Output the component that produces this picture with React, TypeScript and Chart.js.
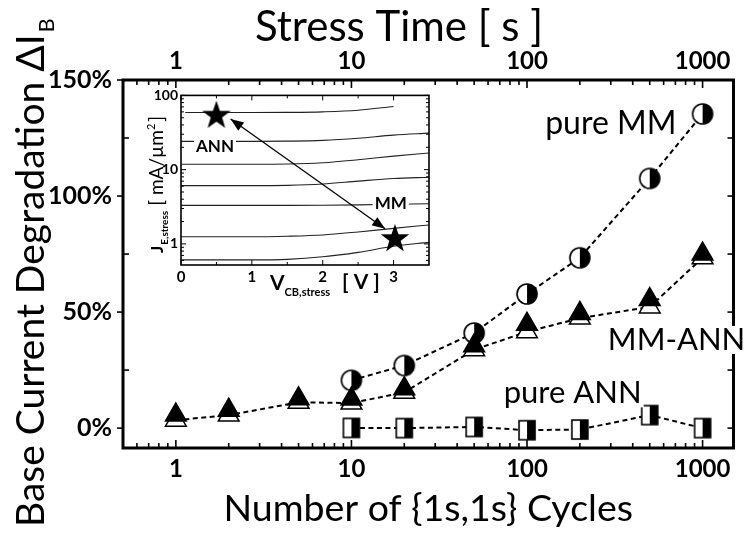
import React, { useEffect, useRef } from 'react';
import { Chart, registerables } from 'chart.js';
Chart.register(...registerables);

const FONT = 'Lato, sans-serif';

// ---------- main chart data ----------
const cycles = [1, 2, 5, 10, 20, 50, 100, 200, 500, 1000];
const mmAnnFilled = [5.6, 7.7, 12.6, 12.5, 17.0, 35.5, 44.7, 49.4, 55.4, 75.0];
const mmAnnOpen = [3.4, 5.6, 11.1, 10.8, 15.4, 33.8, 41.5, 47.4, 52.2, 73.4];
const mmCycles = [10, 20, 50, 100, 200, 500, 1000];
const pureMM = [20.6, 27.0, 41.0, 57.8, 73.4, 107.6, 135.4];
const annCycles = [10, 20, 50, 100, 200, 500, 1000];
const pureANN = [0.1, 0.0, 0.5, -0.9, -0.6, 5.6, 0.0];

const xMajorTicks = [1, 10, 100, 1000];
const xMinorTicks = [0.6, 0.7, 0.8, 0.9, 2, 3, 4, 5, 6, 7, 8, 9, 20, 30, 40, 50, 60, 70, 80, 90, 200, 300, 400, 500, 600, 700, 800, 900];
const yTicks = [0, 25, 50, 75, 100, 125, 150];
const yLabelled = [0, 50, 100, 150];

const topTitle = 'Stress Time [ s ]';
const bottomTitle = 'Number of {1s,1s} Cycles';
const yTitle = 'Base Current Degradation \u0394I';
const yTitleSub = 'B';

// annotation labels (data coordinates)
const annoText = ['pure MM', 'MM-ANN', 'pure ANN'];
const annoX = [300, 711, 182];
const annoY = [131, 38, 15];

// ---------- inset data ----------
const vcbTop = [0.06, 0.5, 1, 1.5, 2, 2.5, 3];
const curveTop = [58.8, 58.8, 58.8, 59, 60, 63, 71];
const vcb = [0, 0.5, 1, 1.5, 2, 2.5, 3, 3.5];
const curve2 = [24, 24, 24, 24.2, 24.8, 26.5, 29.2, 31];
const curve3 = [11.8, 11.8, 11.8, 11.9, 12.4, 13.6, 15.2, 16.8];
const curve4 = [6.1, 6.1, 6.1, 6.15, 6.4, 7.0, 7.6, 7.9];
const curve5 = [3.3, 3.3, 3.3, 3.3, 3.32, 3.36, 3.42, 3.48];
const curve6 = [1.25, 1.25, 1.25, 1.27, 1.32, 1.45, 1.62, 1.8];
const curve7 = [0.61, 0.61, 0.61, 0.62, 0.67, 0.77, 0.93, 1.05];
const starV = [0.5, 3.02];
const starJ = [55, 1.2];
const arrowV = [0.7, 2.88];
const arrowJ = [48, 1.6];
const insetLabels = ['ANN', 'MM'];
const insetLabelV = [0.48, 2.96];
const insetLabelJ = [20.6, 3.5];
const ivMajor = [0, 1, 2, 3];
const ivMinor = [0.5, 1.5, 2.5];
const ijMajor = [1, 10, 100];
const ijMinor = [0.6, 0.7, 0.8, 0.9, 2, 3, 4, 5, 6, 7, 8, 9, 20, 30, 40, 50, 60, 70, 80, 90];

function makeHalfCircle(r: number) {
  const s = Math.ceil(2 * r + 4);
  const c = document.createElement('canvas');
  c.width = s; c.height = s;
  const g = c.getContext('2d')!;
  const cx = s / 2, cy = s / 2;
  g.beginPath(); g.arc(cx, cy, r, 0, Math.PI * 2); g.fillStyle = '#fff'; g.fill();
  g.beginPath(); g.moveTo(cx, cy - r); g.arc(cx, cy, r, -Math.PI / 2, Math.PI / 2); g.closePath(); g.fillStyle = '#000'; g.fill();
  g.beginPath(); g.arc(cx, cy, r, 0, Math.PI * 2); g.lineWidth = 1.6; g.strokeStyle = '#000'; g.stroke();
  return c;
}

function makeHalfSquare(w: number, h: number) {
  const c = document.createElement('canvas');
  c.width = w + 4; c.height = h + 4;
  const g = c.getContext('2d')!;
  g.fillStyle = '#fff'; g.fillRect(2, 2, w, h);
  g.fillStyle = '#000'; g.fillRect(2 + w / 2, 2, w / 2, h);
  g.lineWidth = 1.6; g.strokeStyle = '#000'; g.strokeRect(2, 2, w, h);
  return c;
}

function makeStar(R: number, r: number) {
  const s = Math.ceil(2 * R + 4);
  const c = document.createElement('canvas');
  c.width = s; c.height = s;
  const g = c.getContext('2d')!;
  const cx = s / 2, cy = s / 2 + 1;
  g.beginPath();
  for (let i = 0; i < 10; i++) {
    const rad = (i % 2 === 0 ? R : r);
    const a = -Math.PI / 2 + (i * Math.PI) / 5;
    const px = cx + rad * Math.cos(a), py = cy + rad * Math.sin(a);
    if (i === 0) g.moveTo(px, py); else g.lineTo(px, py);
  }
  g.closePath(); g.fillStyle = '#000'; g.fill();
  return c;
}

function line(ctx: CanvasRenderingContext2D, x1: number, y1: number, x2: number, y2: number) {
  ctx.beginPath(); ctx.moveTo(x1, y1); ctx.lineTo(x2, y2); ctx.stroke();
}

export default function App() {
  const mainRef = useRef<HTMLCanvasElement>(null);
  const insetRef = useRef<HTMLCanvasElement>(null);

  useEffect(() => {
    const circle = makeHalfCircle(10);
    const square = makeHalfSquare(16, 19);
    const star = makeStar(15, 6);

    const mainPlugin = {
      id: 'mainDecor',
      afterDraw(chart: any) {
        const { ctx, chartArea: ca, scales } = chart;
        const sx = scales.x, sy = scales.y;
        ctx.save();
        ctx.strokeStyle = '#000';
        ctx.lineWidth = 1.6;
        [...xMajorTicks, ...xMinorTicks].forEach((v) => {
          const px = sx.getPixelForValue(v);
          const len = xMajorTicks.includes(v) ? 8 : 5;
          line(ctx, px, ca.bottom, px, ca.bottom - len);
          line(ctx, px, ca.top, px, ca.top + len);
        });
        yTicks.forEach((v) => {
          const py = sy.getPixelForValue(v);
          if (yLabelled.includes(v)) line(ctx, ca.left - 6, py, ca.left, py);
          else line(ctx, ca.left, py, ca.left + 6, py);
          line(ctx, ca.right, py, ca.right - 6, py);
        });
        ctx.lineWidth = 3;
        ctx.strokeRect(ca.left, ca.top, ca.right - ca.left, ca.bottom - ca.top);

        ctx.fillStyle = '#000';
        // top axis title
        ctx.textAlign = 'center';
        ctx.textBaseline = 'alphabetic';
        ctx.font = `42px ${FONT}`;
        ctx.fillText(topTitle, ca.left + 276, 41);

        // y axis title with subscript
        ctx.save();
        ctx.translate(44, 527);
        ctx.rotate(-Math.PI / 2);
        ctx.textAlign = 'left';
        ctx.textBaseline = 'alphabetic';
        ctx.font = `39px ${FONT}`;
        ctx.fillText(yTitle, 0, 0);
        const w = ctx.measureText(yTitle).width;
        ctx.font = `22px ${FONT}`;
        ctx.fillText(yTitleSub, w + 2, 10);
        ctx.restore();

        // annotations
        ctx.textAlign = 'center';
        ctx.textBaseline = 'middle';
        annoText.forEach((s, i) => {
          ctx.font = `${i === 0 ? 32 : 31}px ${FONT}`;
          const px = sx.getPixelForValue(annoX[i]);
          const py = sy.getPixelForValue(annoY[i]);
          const tw = ctx.measureText(s).width;
          ctx.fillStyle = '#fff';
          ctx.fillRect(px - tw / 2 - 2, py - 14, tw + 4, 28);
          ctx.fillStyle = '#000';
          ctx.fillText(s, px, py);
        });
        ctx.restore();
      },
    };

    const xTickBuild = (s: any) => {
      s.ticks = [...xMinorTicks, ...xMajorTicks].sort((a, b) => a - b).map((v) => ({ value: v }));
    };
    const xTickCb = (v: any) => (xMajorTicks.includes(Number(v)) ? String(v) : '');

    const main = new Chart(mainRef.current!, {
      type: 'line',
      data: {
        datasets: [
          {
            label: 'MM-ANN (a)',
            data: cycles.map((c, i) => ({ x: c, y: mmAnnFilled[i] })),
            showLine: false,
            pointStyle: 'triangle',
            pointRadius: 12,
            pointBackgroundColor: '#000',
            pointBorderColor: '#000',
            pointBorderWidth: 1.5,
          },
          {
            label: 'MM-ANN (b)',
            data: cycles.map((c, i) => ({ x: c, y: mmAnnOpen[i] })),
            showLine: true,
            borderColor: '#000',
            borderWidth: 2,
            borderDash: [5, 3.5],
            pointStyle: 'triangle',
            pointRadius: 12,
            pointBackgroundColor: '#fff',
            pointBorderColor: '#000',
            pointBorderWidth: 1.5,
          },
          {
            label: 'pure MM',
            data: mmCycles.map((c, i) => ({ x: c, y: pureMM[i] })),
            showLine: true,
            borderColor: '#000',
            borderWidth: 2,
            borderDash: [5, 3.5],
            pointStyle: circle as any,
            pointRadius: 10,
          },
          {
            label: 'pure ANN',
            data: annCycles.map((c, i) => ({ x: c, y: pureANN[i] })),
            showLine: true,
            borderColor: '#000',
            borderWidth: 2,
            borderDash: [5, 3.5],
            pointStyle: square as any,
            pointRadius: 10,
          },
        ],
      },
      options: {
        responsive: false,
        devicePixelRatio: 1,
        animation: false,
        layout: { padding: { left: 0, right: 12, top: 0, bottom: 0 } },
        plugins: { legend: { display: false }, tooltip: { enabled: false } },
        scales: {
          x: {
            type: 'logarithmic',
            position: 'bottom',
            min: 0.5,
            max: 1500,
            afterBuildTicks: xTickBuild,
            afterFit: (s: any) => { s.height = 86; },
            grid: { display: false, drawTicks: false },
            border: { display: false },
            ticks: { callback: xTickCb, autoSkip: false, maxRotation: 0, padding: 7, color: '#000', font: { family: FONT, size: 24, weight: 'bold' } },
            title: { display: true, text: bottomTitle, color: '#000', font: { family: FONT, size: 37.5 }, padding: { top: 0, bottom: 3 } },
          },
          x2: {
            type: 'logarithmic',
            position: 'top',
            min: 0.5,
            max: 1500,
            afterBuildTicks: xTickBuild,
            afterFit: (s: any) => { s.height = 80; },
            grid: { display: false, drawTicks: false },
            border: { display: false },
            ticks: { callback: xTickCb, autoSkip: false, maxRotation: 0, padding: 4, color: '#000', font: { family: FONT, size: 24, weight: 'bold' } },
          },
          y: {
            type: 'linear',
            min: -8.57,
            max: 150,
            afterBuildTicks: (s: any) => { s.ticks = yTicks.map((v) => ({ value: v })); },
            afterFit: (s: any) => { s.width = 123; },
            grid: { display: false, drawTicks: false },
            border: { display: false },
            ticks: { callback: (v: any) => (yLabelled.includes(Number(v)) ? `${v}%` : ''), autoSkip: false, padding: 11, color: '#000', font: { family: FONT, size: 25, weight: 'bold' } },
          },
        },
      } as any,
      plugins: [mainPlugin],
    });

    const insetPlugin = {
      id: 'insetDecor',
      afterDraw(chart: any) {
        const { ctx, chartArea: ca, scales } = chart;
        const sx = scales.x, sy = scales.y;
        ctx.save();
        ctx.strokeStyle = '#000';
        ctx.fillStyle = '#000';
        ctx.lineWidth = 1;
        [...ivMajor, ...ivMinor].forEach((v) => {
          const px = sx.getPixelForValue(v);
          const len = ivMajor.includes(v) ? 5 : 3;
          line(ctx, px, ca.bottom, px, ca.bottom - len);
          line(ctx, px, ca.top, px, ca.top + len);
        });
        [...ijMajor, ...ijMinor].forEach((v) => {
          const py = sy.getPixelForValue(v);
          const len = ijMajor.includes(v) ? 5 : 3;
          line(ctx, ca.left, py, ca.left + len, py);
          line(ctx, ca.right, py, ca.right - len, py);
        });
        ctx.lineWidth = 1.6;
        ctx.strokeRect(ca.left, ca.top, ca.right - ca.left, ca.bottom - ca.top);

        // arrow
        const x1 = sx.getPixelForValue(arrowV[0]), y1 = sy.getPixelForValue(arrowJ[0]);
        const x2 = sx.getPixelForValue(arrowV[1]), y2 = sy.getPixelForValue(arrowJ[1]);
        ctx.lineWidth = 1.3;
        line(ctx, x1, y1, x2, y2);
        const head = (hx: number, hy: number, ox: number, oy: number) => {
          const a = Math.atan2(hy - oy, hx - ox);
          const L = 13, W = 5;
          ctx.beginPath();
          ctx.moveTo(hx, hy);
          ctx.lineTo(hx - L * Math.cos(a) + W * Math.sin(a), hy - L * Math.sin(a) - W * Math.cos(a));
          ctx.lineTo(hx - L * Math.cos(a) - W * Math.sin(a), hy - L * Math.sin(a) + W * Math.cos(a));
          ctx.closePath();
          ctx.fill();
        };
        head(x1, y1, x2, y2);
        head(x2, y2, x1, y1);

        // labels
        ctx.font = `bold 17px ${FONT}`;
        ctx.textAlign = 'center';
        ctx.textBaseline = 'middle';
        insetLabels.forEach((s, i) => {
          const px = sx.getPixelForValue(insetLabelV[i]);
          const py = sy.getPixelForValue(insetLabelJ[i]);
          const tw = ctx.measureText(s).width;
          ctx.fillStyle = '#fff';
          ctx.fillRect(px - tw / 2 - 2, py - 8, tw + 4, 16);
          ctx.fillStyle = '#000';
          ctx.fillText(s, px, py);
        });

        // x title: V_CB,stress [ V ]
        ctx.textAlign = 'left';
        ctx.textBaseline = 'alphabetic';
        const bx = ca.left + 89;
        const by = ca.bottom + 25;
        ctx.font = `bold 21px ${FONT}`;
        ctx.fillText('V', bx, by);
        const wv = ctx.measureText('V').width;
        ctx.font = `bold 11px ${FONT}`;
        ctx.fillText('CB,stress', bx + wv, by + 6);
        ctx.font = `bold 21px ${FONT}`;
        ctx.fillText('[ V ]', ca.left + 161, by - 1);

        // y title: J_E,stress [ mA/µm² ]
        ctx.save();
        ctx.translate(ca.left - 18, ca.bottom - 12);
        ctx.rotate(-Math.PI / 2);
        ctx.font = `bold 17px ${FONT}`;
        ctx.fillText('J', 0, 0);
        let off = ctx.measureText('J').width + 1;
        ctx.font = `bold 10px ${FONT}`;
        ctx.fillText('E,stress', off, 5);
        off += ctx.measureText('E,stress').width + 5;
        ctx.font = `19px ${FONT}`;
        ctx.fillText('[ mA/\u00b5m', off, 0);
        off += ctx.measureText('[ mA/\u00b5m').width;
        ctx.font = `11px ${FONT}`;
        ctx.fillText('2', off, -8);
        off += ctx.measureText('2').width + 2;
        ctx.font = `19px ${FONT}`;
        ctx.fillText(']', off, 0);
        ctx.restore();
        ctx.restore();
      },
    };

    const curveDs = (xs: number[], ys: number[]) => ({
      data: xs.map((v, i) => ({ x: v, y: ys[i] })),
      showLine: true,
      borderColor: '#222',
      borderWidth: 1.1,
      pointRadius: 0,
      cubicInterpolationMode: 'monotone',
    });

    const inset = new Chart(insetRef.current!, {
      type: 'line',
      data: {
        datasets: [
          {
            data: starV.map((v, i) => ({ x: v, y: starJ[i] })),
            showLine: false,
            pointStyle: star as any,
            pointRadius: 10,
          },
          curveDs(vcbTop, curveTop),
          curveDs(vcb, curve2),
          curveDs(vcb, curve3),
          curveDs(vcb, curve4),
          curveDs(vcb, curve5),
          curveDs(vcb, curve6),
          curveDs(vcb, curve7),
        ] as any,
      },
      options: {
        responsive: false,
        devicePixelRatio: 1,
        animation: false,
        layout: { padding: { left: 0, right: 11, top: 9, bottom: 0 } },
        plugins: { legend: { display: false }, tooltip: { enabled: false } },
        scales: {
          x: {
            type: 'linear',
            min: 0,
            max: 3.5,
            afterBuildTicks: (s: any) => { s.ticks = ivMajor.map((v) => ({ value: v })); },
            afterFit: (s: any) => { s.height = 34; },
            grid: { display: false, drawTicks: false },
            border: { display: false },
            ticks: { autoSkip: false, maxRotation: 0, padding: 3, color: '#000', font: { family: FONT, size: 15, weight: 'bold' } },
          },
          y: {
            type: 'logarithmic',
            min: 0.52,
            max: 100,
            afterBuildTicks: (s: any) => { s.ticks = ijMajor.map((v) => ({ value: v })); },
            afterFit: (s: any) => { s.width = 41; },
            grid: { display: false, drawTicks: false },
            border: { display: false },
            ticks: { callback: (v: any) => String(v), autoSkip: false, padding: 3, color: '#000', font: { family: FONT, size: 14, weight: 'bold' } },
          },
        },
      } as any,
      plugins: [insetPlugin],
    });

    return () => {
      main.destroy();
      inset.destroy();
    };
  }, []);

  return (
    <div style={{ position: 'fixed', left: 0, top: 0, width: 747, height: 534, background: '#fff' }}>
      <canvas ref={mainRef} width={747} height={534} style={{ position: 'absolute', left: 0, top: 0 }} />
      <canvas ref={insetRef} width={300} height={215} style={{ position: 'absolute', left: 140, top: 84 }} />
    </div>
  );
}
